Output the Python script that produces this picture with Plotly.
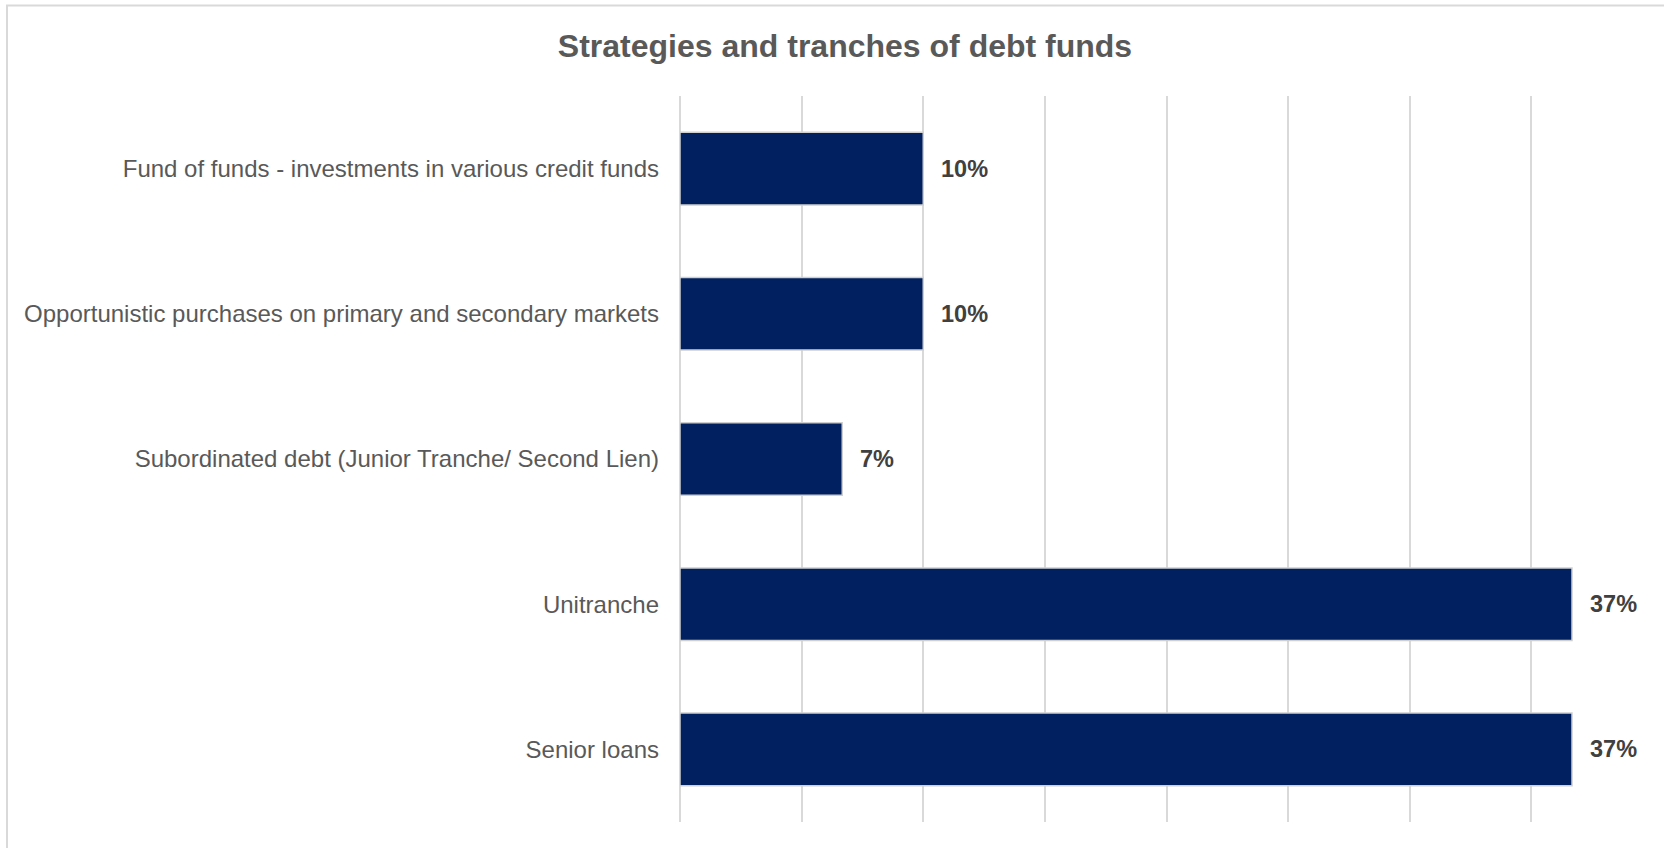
import plotly.graph_objects as go

# Fund strategies, listed top to bottom
categories = [
    "Fund of funds - investments in various credit funds",
    "Opportunistic purchases on primary and secondary markets",
    "Subordinated debt (Junior Tranche/ Second Lien)",
    "Unitranche",
    "Senior loans",
]
shares = [0.10, 0.10, 0.0667, 0.3667, 0.3667]
x_ticks = [0, 0.05, 0.10, 0.15, 0.20, 0.25, 0.30, 0.35, 0.40]

W, H = 1664, 848
M_L, M_R, M_T, M_B = 680, 11, 96, 26
plot_w = W - M_L - M_R
plot_h = H - M_T - M_B

FONT = "Liberation Sans, Arial, sans-serif"
NAVY = "#002060"
GRID = "#d9d9d9"

fig = go.Figure(
    go.Bar(
        x=shares,
        y=categories,
        orientation="h",
        marker=dict(color=NAVY, line=dict(color="#d0d0d0", width=1.5)),
        hoverinfo="skip",
    )
)

# Percentage labels just right of each bar end
for cat, val in zip(categories, shares):
    fig.add_annotation(
        x=val,
        y=cat,
        xref="x",
        yref="y",
        text=f"{val:.0%}",
        showarrow=False,
        xanchor="left",
        yanchor="middle",
        xshift=16,
        font=dict(family=FONT, size=23.5, color="#404040", weight="bold"),
    )

# Light frame around the chart area
fig.add_shape(
    type="rect",
    xref="paper",
    yref="paper",
    x0=(7 - M_L) / plot_w,
    x1=(W + 20 - M_L) / plot_w,
    y0=-(40) / plot_h,
    y1=1 + (M_T - 5.5) / plot_h,
    line=dict(color="#d9d9d9", width=2),
    fillcolor="rgba(0,0,0,0)",
    layer="below",
)

fig.update_layout(
    width=W,
    height=H,
    margin=dict(l=M_L, r=M_R, t=M_T, b=M_B),
    paper_bgcolor="white",
    plot_bgcolor="white",
    showlegend=False,
    bargap=0.5,
    title=dict(
        text="<b>Strategies and tranches of debt funds</b>",
        x=845 / W,
        xref="container",
        xanchor="center",
        y=1 - 46 / H,
        yref="container",
        yanchor="middle",
        font=dict(family=FONT, size=32, color="#595959"),
    ),
    xaxis=dict(
        range=[0, 0.4],
        tickvals=x_ticks,
        showticklabels=False,
        showgrid=True,
        gridcolor=GRID,
        gridwidth=2,
        zeroline=True,
        zerolinecolor=GRID,
        zerolinewidth=2,
        showline=False,
        fixedrange=True,
    ),
    yaxis=dict(
        autorange="reversed",
        showgrid=False,
        zeroline=False,
        showline=False,
        ticks="",
        ticklabelstandoff=20,
        tickfont=dict(family=FONT, size=24, color="#595959"),
        fixedrange=True,
    ),
)

fig.write_html("out.html")
